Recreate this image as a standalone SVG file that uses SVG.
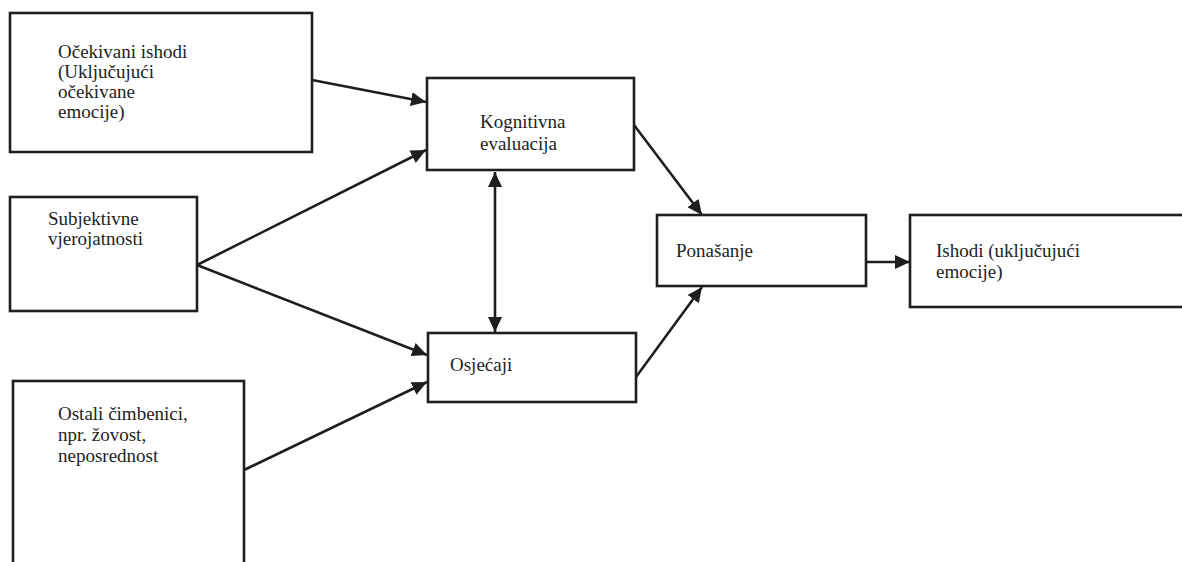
<svg xmlns="http://www.w3.org/2000/svg" width="1182" height="562" viewBox="0 0 1182 562">
<style>
.box{fill:#fff;stroke:#1e1e1e;stroke-width:2.6}
.lbl{font-family:"Liberation Serif","Times New Roman",serif;font-size:19px;fill:#1e1e1e}
.con{stroke:#1e1e1e;stroke-width:2.6;fill:none;marker-end:url(#ah)}
</style>
<defs>
<marker id="ah" markerUnits="userSpaceOnUse" markerWidth="16" markerHeight="14" refX="15" refY="7" orient="auto">
<path d="M0,0 L15,7 L0,14 Z" fill="#1e1e1e"/>
</marker>
<marker id="ahs" markerUnits="userSpaceOnUse" markerWidth="16" markerHeight="14" refX="15" refY="7" orient="auto-start-reverse">
<path d="M0,0 L15,7 L0,14 Z" fill="#1e1e1e"/>
</marker>
</defs>
<rect width="1182" height="562" fill="#fff"/>
<g id="connectors">
<line class="con" x1="312" y1="80" x2="426" y2="102"/>
<line class="con" x1="197" y1="265" x2="426" y2="150"/>
<line class="con" x1="197" y1="265" x2="427" y2="355"/>
<line class="con" x1="244" y1="470" x2="427" y2="382"/>
<line x1="495" y1="172" x2="495" y2="332" stroke="#1e1e1e" stroke-width="2.6" marker-start="url(#ahs)" marker-end="url(#ah)"/>
<line class="con" x1="634" y1="125" x2="702" y2="215"/>
<line class="con" x1="636" y1="377" x2="702" y2="287"/>
<line class="con" x1="866" y1="262" x2="910" y2="262"/>
</g>
<g id="n-ocekivani">
<rect class="box" x="10" y="13" width="302" height="139"/>
<text class="lbl" x="58" y="58">Očekivani ishodi</text>
<text class="lbl" x="58" y="78">(Uključujući</text>
<text class="lbl" x="58" y="98">očekivane</text>
<text class="lbl" x="58" y="118">emocije)</text>
</g>
<g id="n-subjektivne">
<rect class="box" x="10" y="197" width="187" height="114"/>
<text class="lbl" x="48" y="225">Subjektivne</text>
<text class="lbl" x="48" y="245">vjerojatnosti</text>
</g>
<g id="n-ostali">
<rect class="box" x="13" y="381" width="231" height="200"/>
<text class="lbl" x="58" y="420">Ostali čimbenici,</text>
<text class="lbl" x="58" y="441">npr. žovost,</text>
<text class="lbl" x="58" y="462">neposrednost</text>
</g>
<g id="n-kognitivna">
<rect class="box" x="427" y="78" width="207" height="92"/>
<text class="lbl" x="480" y="128">Kognitivna</text>
<text class="lbl" x="480" y="150">evaluacija</text>
</g>
<g id="n-osjecaji">
<rect class="box" x="428" y="333" width="208" height="69"/>
<text class="lbl" x="450" y="371">Osjećaji</text>
</g>
<g id="n-ponasanje">
<rect class="box" x="657" y="215" width="209" height="71"/>
<text class="lbl" x="676" y="257">Ponašanje</text>
</g>
<g id="n-ishodi">
<rect class="box" x="910" y="215" width="290" height="92"/>
<text class="lbl" x="936" y="257">Ishodi (uključujući</text>
<text class="lbl" x="936" y="278">emocije)</text>
</g>
</svg>
